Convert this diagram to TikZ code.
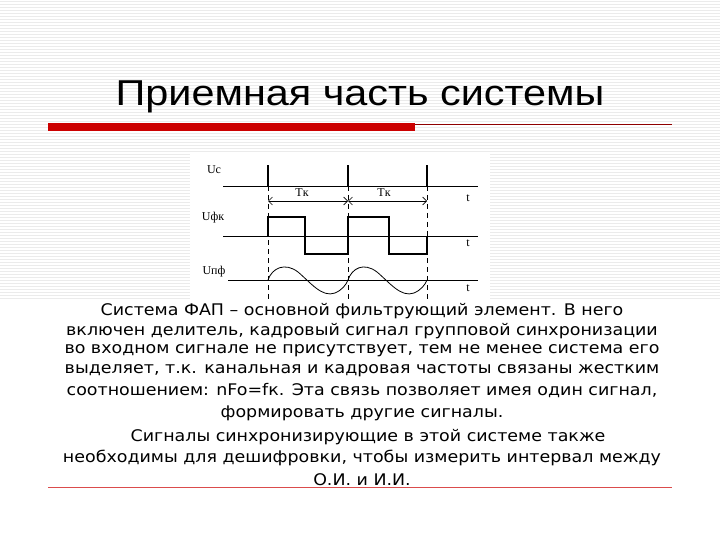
\documentclass[tikz,border=0pt]{standalone}
\usepackage{fontspec}
\setmainfont{Liberation Sans}
\newfontfamily\tnr{Liberation Serif}
\newfontfamily\dv{DejaVu Sans}
\usetikzlibrary{arrows.meta}
\definecolor{redbar}{RGB}{204,0,0}
\begin{document}
\begin{tikzpicture}[x=1pt,y=-1pt,
  sig/.style={line width=1.6pt},
  ax/.style={line width=0.6pt},
  lab/.style={font=\tnr\fontsize{12}{13}\selectfont,inner sep=0},
  body/.style={font=\dv\fontsize{16}{18}\selectfont,inner sep=0,anchor=center,xscale=1.09,transform shape}]
\useasboundingbox (0,0) rectangle (720,540);
\fill[white] (0,0) rectangle (720,540);
\foreach \y in {1,4,...,300} \draw[black!8,line width=0.5pt] (0,\y) -- (720,\y);
% title
\node[font=\fontsize{36}{40}\selectfont,inner sep=0,xscale=1.15,transform shape] (title) at (360,97) {Приемная часть системы};
\fill[redbar] (48,123) rectangle (415,131);
\draw[redbar!70!black,line width=0.7pt] (415,124) -- (672,124);
\draw[redbar!70,line width=0.6pt] (48,487) -- (672,487);
% diagram
\fill[white] (190,152) rectangle (490,300);
\node[lab] (uc) at (214,170) {Uc};
\node[lab] (ufk) at (213,218) {Uфк};
\node[lab] (upf) at (214,272) {Uпф};
\node[lab] (t1) at (468,198) {t};
\node[lab] (t2) at (468,243) {t};
\node[lab] (t3) at (468,288) {t};
\draw[ax] (223,186) -- (478,186);
\draw[ax] (223,236) -- (478,236);
\draw[ax] (228,280) -- (478,280);
\foreach \x in {268,348,427} {
  \draw[sig] (\x,186) -- (\x,165);
  \draw[ax,dashed,dash pattern=on 5pt off 4pt] (\x,186) -- (\x,300);
}
\draw[ax,{Straight Barb[length=4pt]}-{Straight Barb[length=4pt]}] (268,201) -- (348,201);
\draw[ax,{Straight Barb[length=4pt]}-{Straight Barb[length=4pt]}] (348,201) -- (427,201);
\node[lab] (tk1) at (302,193) {Tк};
\node[lab] (tk2) at (384,193) {Tк};
\draw[sig] (268,236) -- (268,217) -- (305,217) -- (305,254) -- (348,254) -- (348,217) -- (389,217) -- (389,254) -- (427,254) -- (427,236);
\draw[ax,line width=0.8pt] (268,280) .. controls (272,268) and (285,262) .. (298,272) .. controls (310,282) and (322,298) .. (335,293) .. controls (342,290) and (346,285) .. (348,280);
\draw[ax,line width=0.8pt] (348,280) .. controls (352,268) and (364,262) .. (377,272) .. controls (389,282) and (401,298) .. (414,293) .. controls (421,290) and (425,285) .. (427,280);
% body text
\node[body] (l1) at (362,311) {Система ФАП – основной фильтрующий элемент. В него};
\node[body] (l2) at (362,331) {включен делитель, кадровый сигнал групповой синхронизации};
\node[body] (l3) at (362,351) {во входном сигнале не присутствует, тем не менее система его};
\node[body] (l4) at (362,371) {выделяет, т.к. канальная и кадровая частоты связаны жестким};
\node[body] (l5) at (362,391) {соотношением: nFo=fк. Эта связь позволяет имея один сигнал,};
\node[body] (l6) at (362,413) {формировать другие сигналы.};
\node[body] (l7) at (368,437) {Сигналы синхронизирующие в этой системе также};
\node[body] (l8) at (362,458) {необходимы для дешифровки, чтобы измерить интервал между};
\node[body] (l9) at (362,480) {О.И. и И.И.};
\end{tikzpicture}
\end{document}
